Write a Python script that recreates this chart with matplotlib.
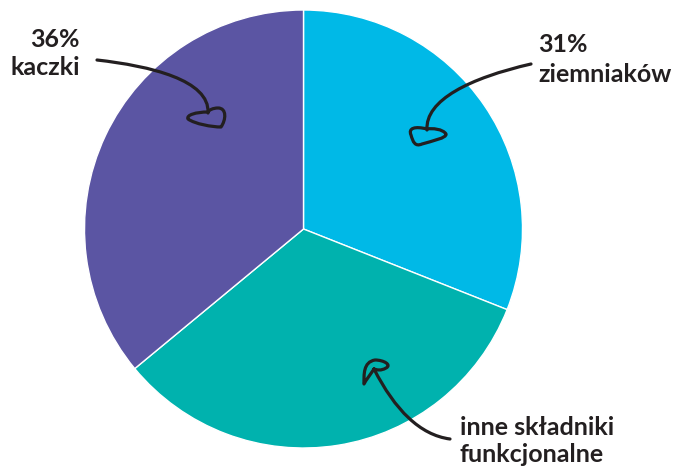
import matplotlib
matplotlib.use("Agg")
import matplotlib.pyplot as plt
from matplotlib.path import Path
from matplotlib.patches import PathPatch

labels = ["ziemniaków", "inne składniki funkcjonalne", "kaczki"]
values = [31, 33, 36]
colors = ["#00B9E7", "#00B2AE", "#5B55A3"]

W, H = 675, 468
fig = plt.figure(figsize=(W / 100, H / 100), dpi=100)
ax = fig.add_axes([0, 0, 1, 1])

cx, cy, r = 303.5, H - 229, 219
ax.pie(values, colors=colors, startangle=90, counterclock=False,
       center=(cx, cy), radius=r, frame=True,
       wedgeprops=dict(edgecolor="white", linewidth=1.0))
ax.set_xlim(0, W)
ax.set_ylim(0, H)
ax.set_aspect("equal")
ax.axis("off")

def P(x, y):
    return (x, H - y)

font = dict(family=["Lato", "DejaVu Sans"], fontweight="bold", fontsize=18,
            color="#231F20")

def label(x, ys, lines, ha):
    for y, t in zip(ys, lines):
        ax.text(x, H - y, t, ha=ha, va="baseline", **font)

label(80, [47, 75], [f"{values[2]}%", labels[2]], "right")
label(538, [52, 82], [f"{values[0]}%", labels[0]], "left")
label(460, [435, 462], ["inne składniki", "funkcjonalne"], "left")

lc = "#231F20"
lw = 2.3

def curve(pts):
    codes = [Path.MOVETO] + [Path.CURVE4] * (len(pts) - 1)
    path = Path([P(*p) for p in pts], codes)
    ax.add_patch(PathPatch(path, facecolor="none", edgecolor=lc, lw=lw,
                           capstyle="round", joinstyle="round"))

# kaczki arrow
curve([(97, 60), (150, 66), (210, 80), (208, 113)])
curve([(208, 112), (196, 112), (186, 115), (188, 119),
       (195, 124), (212, 127), (221, 127),
       (226, 120), (227, 108), (218, 108),
       (213, 108), (209, 110), (208, 112)])
# ziemniaków arrow
curve([(531, 64), (470, 78), (425, 100), (427, 130)])
curve([(427, 129), (415, 126), (408, 128), (411, 135), (413, 142), (415, 147), (422, 144),
       (432, 141), (447, 138), (446, 134), (443, 129), (432, 128), (427, 129)])
# inne arrow
curve([(450, 439), (420, 435), (395, 410), (374, 369)])
curve([(374, 369), (370, 375), (366, 380), (364, 384), (364, 375), (363, 362), (375, 360),
       (384, 360), (392, 365), (386, 368), (381, 371), (377, 370), (374, 369)])

fig.savefig("out.png", dpi=100, facecolor="white")
